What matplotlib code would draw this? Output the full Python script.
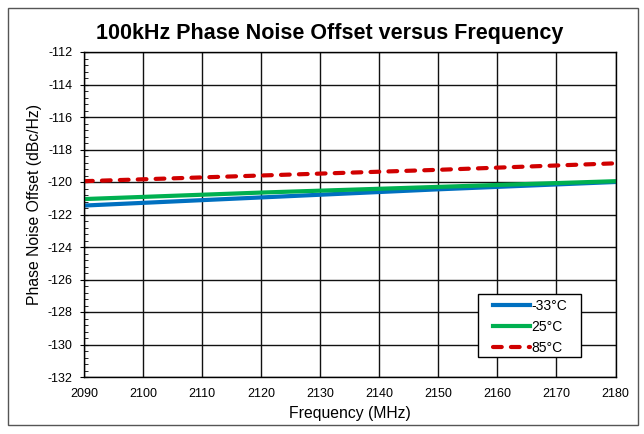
import matplotlib.pyplot as plt
from matplotlib.patches import Rectangle
from matplotlib.ticker import MultipleLocator

plt.rcParams['font.family'] = ['Liberation Sans', 'DejaVu Sans']
plt.rcParams['axes.unicode_minus'] = False

freq = [2090, 2120, 2150, 2180]
pn_m33 = [-121.45, -120.95, -120.45, -120.0]
pn_25 = [-121.05, -120.65, -120.3, -119.95]
pn_85 = [-119.95, -119.6, -119.25, -118.85]
labels = ['-33°C', '25°C', '85°C']

W, H = 644, 434
fig = plt.figure(figsize=(W / 100, H / 100), dpi=100)
ax = fig.add_axes([84 / W, 1 - 377 / H, (615.5 - 84) / W, (377 - 52) / H])

# outer frame around the chart
fig.patches.append(Rectangle((8 / W, 1 - 425 / H), 630 / W, 417 / H,
                             transform=fig.transFigure, fill=False,
                             edgecolor='#555555', linewidth=1))

ax.plot(freq, pn_m33, color='#0070c0', lw=3, label=labels[0])
ax.plot(freq, pn_25, color='#00b050', lw=3, label=labels[1])
ax.plot(freq, pn_85, color='#d00000', lw=3, ls=(0, (2.1, 2.2)),
        dash_capstyle='round', label=labels[2])

ax.set_xlim(2090, 2180)
ax.set_ylim(-132, -112)
ax.set_xticks(range(2090, 2181, 10))
ax.set_yticks(range(-132, -111, 2))
ax.yaxis.set_minor_locator(MultipleLocator(0.4))
ax.tick_params(axis='y', which='major', labelsize=9, length=6, direction='inout', pad=5.5)
ax.tick_params(axis='y', which='minor', length=3, direction='in')
ax.tick_params(axis='x', labelsize=9, length=0, pad=8)
ax.grid(True, color='#111111', lw=1)
for s in ax.spines.values():
    s.set_color('black')
    s.set_linewidth(1)

ax.set_title('100kHz Phase Noise Offset versus Frequency', fontsize=15.5,
             fontweight='bold', pad=9, x=0.463)
ax.set_xlabel('Frequency (MHz)', fontsize=11.3, labelpad=4)
ax.set_ylabel('Phase Noise Offset (dBc/Hz)', fontsize=11.3)
ax.yaxis.set_label_coords(-0.079, 0.53)

# legend box drawn separately (wide side margins, tight top/bottom)
fig.patches.append(Rectangle((478 / W, 1 - 357 / H), 103 / W, 63 / H,
                             transform=fig.transFigure, facecolor='white',
                             edgecolor='black', linewidth=1, zorder=5))
leg = fig.legend(loc='upper left', bbox_to_anchor=(493 / W, 1 - 298.5 / H),
                 fontsize=10, frameon=False, handlelength=2.65,
                 handletextpad=0.1, borderpad=0, borderaxespad=0,
                 labelspacing=0.52)
leg.set_zorder(6)

fig.savefig('out.png', dpi=100)
